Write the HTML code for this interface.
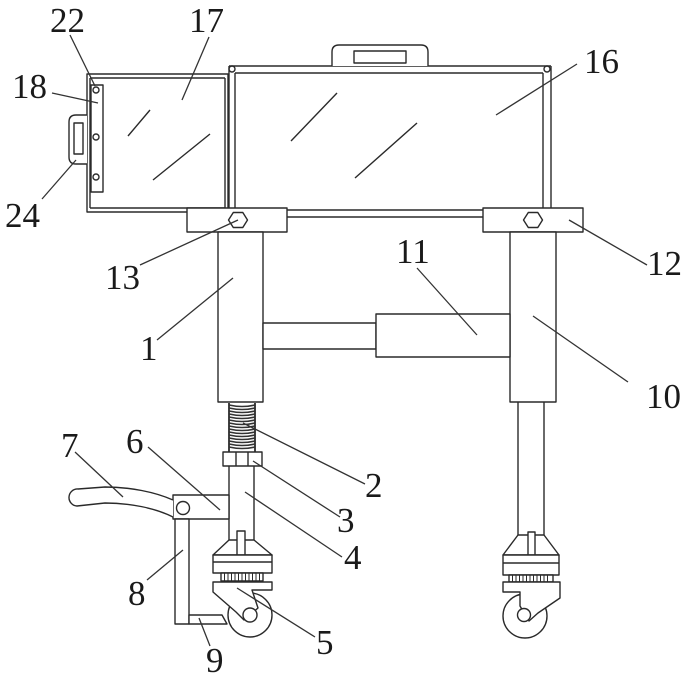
<!DOCTYPE html>
<html><head><meta charset="utf-8"><style>
html,body{margin:0;padding:0;background:#fff;}
svg{display:block;}
text{font-family:"Liberation Serif",serif;font-size:35px;fill:#1a1a1a;}
</style></head><body>
<svg width="686" height="678" viewBox="0 0 686 678" xmlns="http://www.w3.org/2000/svg">
<g fill="none" stroke="#2a2a2a" stroke-width="1.4" stroke-linejoin="round">
<!-- Box 17 -->
<rect x="87" y="74" width="141" height="138" fill="#fff"/>
<line x1="90" y1="78" x2="225" y2="78"/>
<line x1="90" y1="78" x2="90" y2="208"/>
<line x1="225" y1="78" x2="225" y2="208"/>
<line x1="90" y1="208" x2="225" y2="208"/>
<line x1="128" y1="136" x2="150" y2="110"/>
<line x1="153" y1="180" x2="210" y2="134"/>
<!-- plate 18 -->
<rect x="91" y="85" width="12" height="107" fill="#fff"/>
<circle cx="96" cy="90" r="3"/>
<circle cx="96" cy="137" r="3"/>
<circle cx="96" cy="177" r="3"/>
<!-- handle 24 -->
<path d="M87,115 H76 Q69,115 69,122 V157 Q69,164 76,164 H87" fill="#fff"/>
<rect x="74" y="123" width="9" height="31"/>
<!-- Box 16 -->
<line x1="229" y1="66" x2="551" y2="66"/>
<line x1="235" y1="73" x2="543" y2="73"/>
<line x1="229" y1="66" x2="229" y2="212"/>
<line x1="235" y1="73" x2="235" y2="212"/>
<line x1="543" y1="73" x2="543" y2="212"/>
<line x1="551" y1="66" x2="551" y2="212"/>
<line x1="229" y1="210" x2="551" y2="210"/>
<line x1="229" y1="217" x2="551" y2="217"/>
<circle cx="232" cy="69" r="3"/>
<circle cx="547" cy="69" r="3"/>
<line x1="291" y1="141" x2="337" y2="93"/>
<line x1="355" y1="178" x2="417" y2="123"/>
<!-- top handle -->
<path d="M332,66 V52 Q332,45 339,45 H421 Q428,45 428,52 V66" fill="#fff"/>
<rect x="354" y="51" width="52" height="12"/>
<!-- clamps -->
<rect x="187" y="208" width="100" height="24" fill="#fff"/>
<rect x="483" y="208" width="100" height="24" fill="#fff"/>
<polygon points="228.5,220 233.3,212.5 242.8,212.5 247.5,220 242.8,227.5 233.3,227.5" fill="#fff"/>
<polygon points="523.5,220 528.3,212.5 537.8,212.5 542.5,220 537.8,227.5 528.3,227.5" fill="#fff"/>
<!-- columns -->
<rect x="218" y="232" width="45" height="170" fill="#fff"/>
<rect x="510" y="232" width="46" height="170" fill="#fff"/>
<!-- rod and cylinder 11 -->
<rect x="263" y="323" width="113" height="26" fill="#fff"/>
<rect x="376" y="314" width="134" height="43" fill="#fff"/>
<!-- spring 2 -->
<line x1="229" y1="403" x2="229" y2="452" stroke-width="1.8"/>
<line x1="255" y1="403" x2="255" y2="452" stroke-width="1.8"/>
<g stroke-width="1.6" stroke="#333">
<path d="M229,405 Q242,408 255,405"/><path d="M229,408 Q242,411 255,408"/>
<path d="M229,411 Q242,414 255,411"/><path d="M229,414 Q242,417 255,414"/>
<path d="M229,417 Q242,420 255,417"/><path d="M229,420 Q242,423 255,420"/>
<path d="M229,423 Q242,426 255,423"/><path d="M229,426 Q242,429 255,426"/>
<path d="M229,429 Q242,432 255,429"/><path d="M229,432 Q242,435 255,432"/>
<path d="M229,435 Q242,438 255,435"/><path d="M229,438 Q242,441 255,438"/>
<path d="M229,441 Q242,444 255,441"/><path d="M229,444 Q242,447 255,444"/>
<path d="M229,447 Q242,450 255,447"/>
</g>
<!-- nut 3 -->
<rect x="223" y="452" width="39" height="14" fill="#fff"/>
<line x1="236" y1="452" x2="236" y2="466"/>
<line x1="248" y1="452" x2="248" y2="466"/>
<!-- rod 4 -->
<line x1="229" y1="466" x2="229" y2="540"/>
<line x1="254" y1="466" x2="254" y2="540"/>
<!-- block 6 -->
<rect x="173" y="495" width="56" height="24" fill="#fff"/>
<circle cx="183" cy="508" r="6.5"/>
<!-- handle 7 -->
<path d="M173,500 C155,492 130,487 105,487 L78,489 A8.5,8.5 0 0 0 77,506 L105,503 C130,503 155,508 173,517" fill="#fff"/>
<!-- bar 8 and foot 9 -->
<rect x="175" y="519" width="14" height="105" fill="#fff"/>
<polygon points="189,615 222,615 227,624 189,624" fill="#fff"/>
<!-- left caster -->
<polygon points="229,540 254,540 272,555 213,555" fill="#fff"/>
<rect x="237" y="531" width="8" height="24" fill="#fff"/>
<rect x="213" y="555" width="59" height="18" fill="#fff"/>
<line x1="213" y1="562" x2="272" y2="562"/>
<rect x="221" y="573" width="42" height="8" fill="#fff"/>
<g stroke-width="1">
<line x1="224.5" y1="573" x2="224.5" y2="581"/><line x1="228" y1="573" x2="228" y2="581"/>
<line x1="231.5" y1="573" x2="231.5" y2="581"/><line x1="235" y1="573" x2="235" y2="581"/>
<line x1="238.5" y1="573" x2="238.5" y2="581"/><line x1="242" y1="573" x2="242" y2="581"/>
<line x1="245.5" y1="573" x2="245.5" y2="581"/><line x1="249" y1="573" x2="249" y2="581"/>
<line x1="252.5" y1="573" x2="252.5" y2="581"/><line x1="256" y1="573" x2="256" y2="581"/>
<line x1="259.5" y1="573" x2="259.5" y2="581"/>
</g>
<circle cx="250" cy="615" r="22" fill="#fff"/>
<polygon points="213,582 272,582 272,590 252,590 258,608 244,620 236,612 213,592" fill="#fff"/>
<circle cx="250" cy="615" r="7" fill="#fff"/>
<!-- right lower rod -->
<line x1="518" y1="402" x2="518" y2="535"/>
<line x1="544" y1="402" x2="544" y2="535"/>
<!-- right caster -->
<polygon points="518,535 544,535 559,555 503,555" fill="#fff"/>
<rect x="528" y="532" width="7" height="23" fill="#fff"/>
<rect x="503" y="555" width="56" height="20" fill="#fff"/>
<line x1="503" y1="563" x2="559" y2="563"/>
<rect x="509" y="575" width="44" height="7" fill="#fff"/>
<g stroke-width="1">
<line x1="512.5" y1="575" x2="512.5" y2="582"/><line x1="516" y1="575" x2="516" y2="582"/>
<line x1="519.5" y1="575" x2="519.5" y2="582"/><line x1="523" y1="575" x2="523" y2="582"/>
<line x1="526.5" y1="575" x2="526.5" y2="582"/><line x1="530" y1="575" x2="530" y2="582"/>
<line x1="533.5" y1="575" x2="533.5" y2="582"/><line x1="537" y1="575" x2="537" y2="582"/>
<line x1="540.5" y1="575" x2="540.5" y2="582"/><line x1="544" y1="575" x2="544" y2="582"/>
<line x1="547.5" y1="575" x2="547.5" y2="582"/>
</g>
<circle cx="525" cy="616" r="22" fill="#fff"/>
<polygon points="560,582 503,582 503,592 520,592 520,606 529,621 538,613 560,598" fill="#fff"/>
<circle cx="524" cy="615" r="6.5" fill="#fff"/>
<!-- leader lines -->
<g stroke="#333" stroke-width="1.3">
<line x1="70" y1="35" x2="95" y2="86"/>
<line x1="209" y1="37" x2="182" y2="100"/>
<line x1="52" y1="93" x2="98" y2="103"/>
<line x1="42" y1="199" x2="76" y2="160"/>
<line x1="577" y1="64" x2="496" y2="115"/>
<line x1="647" y1="265" x2="569" y2="220"/>
<line x1="140" y1="265" x2="238" y2="220"/>
<line x1="417" y1="268" x2="477" y2="335"/>
<line x1="157" y1="340" x2="233" y2="278"/>
<line x1="628" y1="382" x2="533" y2="316"/>
<line x1="243" y1="423" x2="365" y2="484"/>
<line x1="253" y1="461" x2="340" y2="517"/>
<line x1="245" y1="492" x2="342" y2="557"/>
<line x1="237" y1="588" x2="315" y2="637"/>
<line x1="148" y1="447" x2="220" y2="510"/>
<line x1="75" y1="452" x2="123" y2="497"/>
<line x1="147" y1="580" x2="183" y2="550"/>
<line x1="199" y1="618" x2="210" y2="646"/>
</g>
</g>
<!-- labels -->
<text x="50" y="32">22</text>
<text x="189" y="32">17</text>
<text x="12" y="98">18</text>
<text x="5" y="227">24</text>
<text x="584" y="73">16</text>
<text x="647" y="275">12</text>
<text x="105" y="289">13</text>
<text x="396" y="263">11</text>
<text x="140" y="360">1</text>
<text x="646" y="408">10</text>
<text x="365" y="497">2</text>
<text x="337" y="532">3</text>
<text x="344" y="569">4</text>
<text x="316" y="654">5</text>
<text x="126" y="453">6</text>
<text x="61" y="457">7</text>
<text x="128" y="605">8</text>
<text x="206" y="672">9</text>
</svg>
</body></html>
